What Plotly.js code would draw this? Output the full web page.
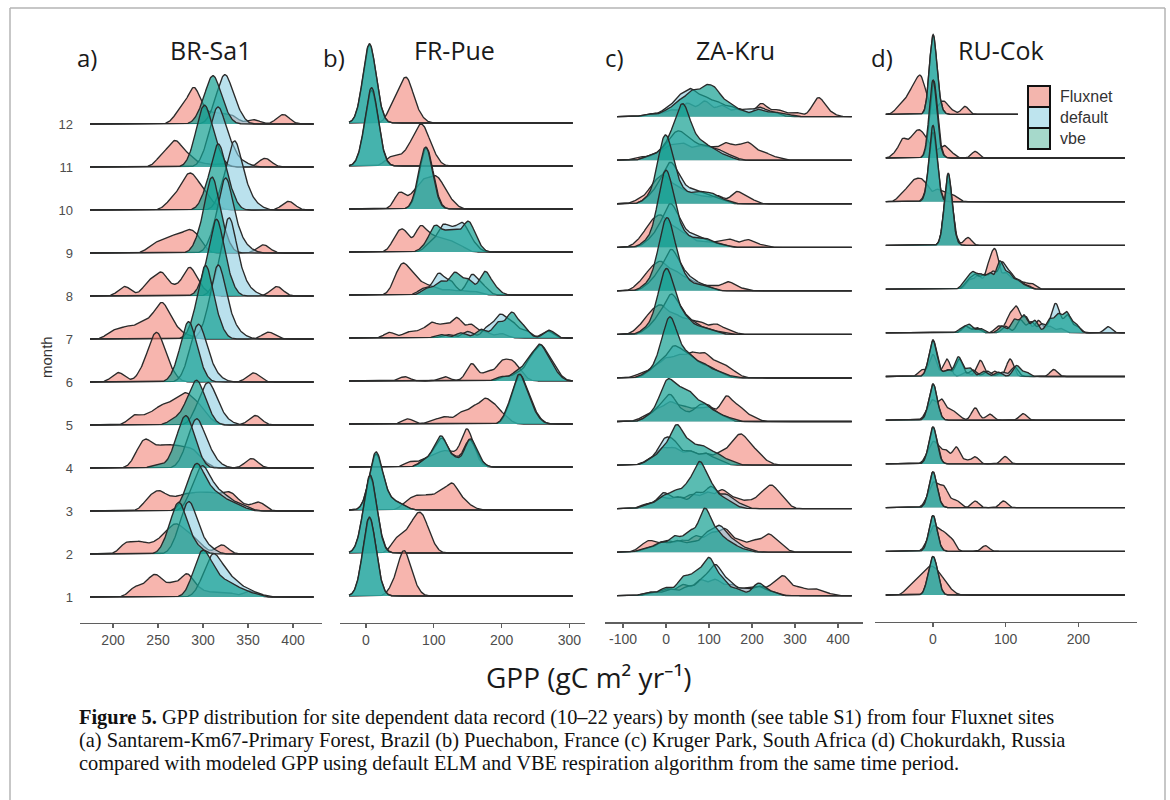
<!DOCTYPE html>
<html><head><meta charset="utf-8">
<script src="https://cdn.plot.ly/plotly-3.0.1.min.js"></script>
<style>html,body{margin:0;padding:0;background:#fff}#chart{width:1170px;height:800px}</style>
</head><body><div id="chart"></div>
<script>
// ---------------- DATA ----------------
const months = [1,2,3,4,5,6,7,8,9,10,11,12];
const sites = ['BR-Sa1','FR-Pue','ZA-Kru','RU-Cok'];
const panelLetters = ['a)','b)','c)','d)'];
const seriesNames = ['Fluxnet','default','vbe'];
const ticksBR = [200,250,300,350,400];
const ticksFR = [0,100,200,300];
const ticksZA = [-100,0,100,200,300,400];
const ticksRU = [0,100,200];

// each month: list of [GPP value, weight] pairs (weighted kernel density)
const BR_fluxnet = [
 [[225,22],[240,28],[250,38],[266,28],[282,50],[296,15],[312,10],[328,10],[352,14]],
 [[215,25],[230,25],[245,20],[258,35],[270,55],[283,40],[296,20],[321,21]],
 [[240,25],[252,38],[266,25],[280,32],[294,35],[308,35],[322,30],[333,30],[346,10],[362,20]],
 [[228,25],[237,50],[250,35],[262,40],[275,38],[288,35],[300,12],[354,22]],
 [[224,22],[240,22],[254,38],[268,45],[281,60],[294,40],[306,12],[358,22]],
 [[206,22],[234,25],[245,70],[253,60],[264,20],[356,21]],
 [[200,18],[215,25],[230,30],[243,35],[255,72],[268,25],[282,8],[373,16]],
 [[213,22],[240,30],[254,50],[270,18],[285,62],[298,15],[382,22]],
 [[245,18],[258,25],[270,30],[283,40],[294,30],[367,19]],
 [[265,20],[278,45],[288,60],[300,35],[312,10],[395,20]],
 [[255,25],[269,55],[283,25],[300,8],[320,8],[369,20]],
 [[275,30],[290,80],[305,20],[318,20],[332,18],[356,10],[389,22]]
];
const BR_default = [
 [[300,30],[311,80],[323,50],[336,30],[350,15],[363,5]],
 [[273,35],[284,100],[295,40],[308,12]],
 [[288,35],[299,85],[311,45],[324,30],[338,15],[350,5]],
 [[282,35],[293,95],[305,40],[317,8]],
 [[295,35],[306,80],[317,30],[329,6]],
 [[285,35],[295,110],[306,40],[318,8]],
 [[306,40],[317,150],[329,45],[342,10]],
 [[318,40],[329,160],[341,45],[354,10]],
 [[313,40],[325,155],[337,45],[350,10]],
 [[323,45],[335,140],[347,45],[360,10]],
 [[306,40],[317,120],[330,45],[345,10]],
 [[315,35],[325,95],[337,30]]
];
const BR_vbe = [
 [[290,35],[300,85],[312,50],[326,30],[340,18],[355,8]],
 [[262,35],[273,100],[284,35],[296,10]],
 [[282,35],[293,90],[305,45],[318,30],[332,18],[345,6]],
 [[250,8],[270,40],[281,100],[292,35]],
 [[268,12],[282,35],[293,85],[304,30]],
 [[273,35],[284,120],[295,35]],
 [[292,40],[303,150],[315,40]],
 [[303,40],[315,160],[327,40]],
 [[298,40],[310,158],[322,40]],
 [[305,40],[317,135],[329,40]],
 [[292,40],[302,120],[314,40]],
 [[300,30],[311,95],[322,30]]
];

const FR_fluxnet = [
 [[42,25],[56,95],[70,25]],
 [[45,30],[60,35],[73,55],[84,60],[96,20]],
 [[60,18],[75,28],[92,30],[110,40],[127,55],[142,20],[155,6]],
 [[65,12],[85,15],[100,22],[115,30],[130,25],[148,80],[160,20]],
 [[62,12],[100,10],[118,16],[140,25],[158,35],[175,50],[190,35],[205,15]],
 [[57,10],[116,10],[156,40],[180,22],[200,40],[215,38],[228,15]],
 [[35,13],[62,13],[80,15],[97,33],[115,28],[134,45],[155,30],[175,15],[200,10]],
 [[45,30],[56,55],[70,35],[85,20],[100,15],[120,12],[140,10],[160,8]],
 [[45,30],[57,40],[80,55],[95,30],[110,25],[125,20],[140,12]],
 [[50,38],[70,30],[85,55],[100,55],[112,40],[126,15]],
 [[35,18],[50,17],[65,35],[78,62],[88,50],[100,20]],
 [[40,40],[55,70],[65,55],[78,15]]
];
const FR_default = [
 [[-5,33],[5,148],[15,38]],
 [[-5,34],[6,148],[17,38]],
 [[5,30],[15,105],[27,35],[42,15],[55,8]],
 [[85,12],[100,25],[113,58],[131,20],[152,58],[165,15]],
 [[213,35],[227,98],[241,40],[253,10]],
 [[205,10],[225,18],[243,45],[258,68],[272,35],[284,10]],
 [[120,8],[150,15],[180,25],[198,50],[215,35],[235,18],[268,16]],
 [[85,15],[107,48],[125,30],[156,45],[172,20]],
 [[95,20],[113,55],[128,40],[143,58],[158,18]],
 [[79,35],[89,110],[99,35]],
 [[-3,33],[8,148],[19,38]],
 [[-5,33],[5,148],[15,40]]
];
const FR_vbe = [
 [[-5,35],[5,150],[15,38]],
 [[-5,35],[6,150],[16,38]],
 [[5,30],[15,110],[27,35],[42,15],[55,8]],
 [[85,12],[100,25],[112,62],[130,20],[153,60],[165,15]],
 [[212,35],[226,100],[240,40],[252,10]],
 [[200,10],[222,20],[240,45],[256,72],[270,35],[282,10]],
 [[110,8],[140,12],[170,20],[195,35],[215,56],[232,25],[270,18]],
 [[90,15],[110,30],[131,50],[150,35],[175,52],[190,15]],
 [[88,12],[102,55],[118,35],[132,40],[150,62],[162,20]],
 [[78,35],[88,112],[98,35]],
 [[-3,35],[8,150],[18,40]],
 [[-5,35],[5,150],[15,40]]
];

const ZA_fluxnet = [
 [[-40,8],[0,15],[40,25],[80,35],[115,35],[150,25],[185,15],[215,20],[250,22],[275,40],[310,18],[345,15],[375,5]],
 [[-55,10],[-35,22],[0,25],[35,25],[70,35],[105,40],[137,50],[170,25],[205,25],[238,38],[265,15]],
 [[-45,10],[-10,25],[25,25],[60,30],[95,35],[130,40],[160,20],[190,15],[220,25],[245,45],[270,20]],
 [[-40,10],[-10,35],[20,35],[55,30],[90,25],[125,25],[155,40],[178,55],[205,30],[230,8]],
 [[-50,10],[-20,25],[10,40],[40,30],[70,25],[100,30],[140,55],[170,30],[200,10]],
 [[-60,8],[-30,20],[0,40],[30,45],[60,50],[90,50],[120,30],[145,18],[165,5]],
 [[-60,15],[-35,40],[-10,55],[20,40],[50,30],[80,25],[115,22],[145,10]],
 [[-60,15],[-35,40],[-10,55],[20,40],[50,25],[80,12],[110,10],[145,20],[175,5]],
 [[-60,15],[-35,45],[-10,60],[20,40],[50,25],[85,12],[120,12],[150,17],[190,17],[220,5]],
 [[-60,10],[-30,35],[-5,55],[25,35],[55,22],[85,15],[120,18],[165,27],[195,10]],
 [[-60,8],[-20,15],[10,30],[40,35],[75,30],[105,25],[137,35],[165,25],[192,36],[225,18],[255,6]],
 [[-30,8],[10,15],[50,30],[90,35],[130,25],[170,18],[222,30],[260,15],[300,10],[354,42],[380,8]]
];
const ZA_default = [
 [[-30,8],[10,15],[50,20],[85,35],[115,65],[145,30],[180,15],[215,20],[245,8]],
 [[-45,8],[-10,22],[25,25],[60,22],[95,40],[125,55],[155,25],[185,8]],
 [[-40,10],[-5,35],[30,25],[70,35],[105,48],[140,30],[170,10]],
 [[-35,12],[-5,50],[20,45],[55,30],[90,25],[120,12]],
 [[-40,10],[-15,25],[10,55],[40,20],[75,30],[100,30],[130,12]],
 [[-40,10],[-15,30],[15,60],[40,45],[65,35],[95,25],[125,12]],
 [[-40,12],[-15,35],[12,80],[38,40],[65,22],[95,12],[125,5]],
 [[-40,12],[-15,35],[12,83],[38,38],[65,20],[95,10]],
 [[-40,12],[-15,35],[10,85],[35,40],[65,25],[95,15],[125,6]],
 [[-40,12],[-15,35],[10,80],[35,40],[65,28],[95,20],[125,10]],
 [[-40,8],[-10,18],[15,38],[35,45],[60,35],[90,30],[120,22],[150,10]],
 [[-40,6],[0,15],[30,40],[58,55],[88,40],[118,30],[150,22],[185,15],[218,20],[250,10]]
];
const ZA_vbe = [
 [[-40,8],[0,18],[40,40],[70,45],[100,80],[130,35],[165,15],[215,28],[245,8]],
 [[-50,8],[-15,20],[20,35],[55,45],[90,95],[120,40],[150,20],[180,6]],
 [[-45,8],[-10,25],[20,35],[50,45],[78,95],[105,45],[135,20],[160,5]],
 [[-35,12],[-5,35],[25,85],[55,45],[85,38],[115,25],[145,10]],
 [[-40,10],[-15,30],[5,76],[30,55],[55,55],[85,38],[115,20],[145,8]],
 [[-45,10],[-15,40],[8,115],[30,50],[55,42],[85,30],[115,15],[145,5]],
 [[-45,12],[-18,50],[2,120],[25,50],[50,28],[80,15],[110,8]],
 [[-45,12],[-18,50],[2,130],[22,55],[45,22],[75,12],[100,6]],
 [[-45,12],[-18,50],[0,135],[20,55],[45,22],[75,18],[100,14],[130,6]],
 [[-40,12],[-15,50],[0,113],[20,45],[45,20],[75,25],[105,22],[135,8]],
 [[-40,8],[-10,18],[15,45],[38,105],[60,45],[85,30],[110,20],[140,10]],
 [[-40,6],[0,12],[30,32],[60,52],[90,56],[115,52],[145,28],[175,12],[215,16],[250,10],[280,5]]
];

const RU_fluxnet = [
 [[-36,10],[-28,18],[-20,25],[-12,35],[-4,45],[4,40],[12,28],[20,15],[28,5]],
 [[-8,15],[0,45],[8,30],[16,32],[26,25],[72,13]],
 [[-8,15],[0,45],[8,30],[16,38],[26,12],[34,12],[58,15],[97,15]],
 [[-8,15],[0,40],[8,25],[18,28],[32,38],[45,8],[58,16],[99,17]],
 [[-8,15],[0,40],[12,45],[24,22],[34,12],[58,28],[78,14],[124,15]],
 [[-15,15],[0,50],[19,40],[45,10],[65,37],[85,12],[106,40],[166,16]],
 [[45,15],[60,12],[90,15],[105,35],[115,55],[128,35],[145,28],[160,15],[175,10]],
 [[50,20],[62,30],[77,50],[86,80],[100,35],[112,22],[124,15],[136,12]],
 [[20,140],[28,25],[48,18]],
 [[-45,12],[-35,25],[-26,38],[-17,40],[-8,30],[5,25],[15,18],[25,14],[33,6]],
 [[-52,10],[-42,38],[-33,25],[-25,40],[-17,45],[-8,35],[6,15],[16,25],[26,10],[58,15]],
 [[-50,8],[-44,12],[-36,28],[-27,50],[-18,70],[-10,35],[8,16],[16,24],[26,8],[44,18]]
];
const RU_default = [
 [[-5,28],[0,52],[5,30]],
 [[-6,10],[0,72],[6,10]],
 [[-6,10],[0,72],[6,10]],
 [[-6,10],[0,74],[6,10]],
 [[-6,10],[0,72],[6,12]],
 [[-6,10],[0,74],[6,10],[20,15],[36,40],[55,15],[75,12],[95,10],[112,22]],
 [[45,15],[60,10],[100,15],[120,30],[135,25],[150,20],[165,35],[171,45],[185,40],[198,15],[241,14]],
 [[48,18],[58,30],[70,30],[82,38],[95,58],[106,35],[118,20],[130,8]],
 [[15,12],[21,152],[28,12]],
 [[-8,15],[0,150],[8,15]],
 [[-6,10],[1,168],[8,12]],
 [[0,176],[8,15]]
];
const RU_vbe = [
 [[-5,30],[0,52],[5,30]],
 [[-6,10],[0,72],[6,10]],
 [[-6,10],[0,72],[6,10]],
 [[-6,10],[0,75],[6,10]],
 [[-6,10],[0,72],[6,12]],
 [[-6,10],[0,72],[6,10],[20,15],[35,45],[50,20],[70,12],[90,10],[115,25],[128,10]],
 [[40,10],[50,18],[65,10],[95,15],[112,30],[125,40],[140,28],[160,30],[172,40],[184,45],[196,20]],
 [[45,20],[55,35],[66,30],[78,35],[92,62],[104,35],[116,20],[128,8]],
 [[15,12],[21,155],[28,12]],
 [[-6,15],[0,160],[6,15]],
 [[-6,10],[0,170],[8,12]],
 [[0,178],[8,15]]
];

// ---------------- LAYOUT / STYLE ----------------
const W = 1170, H = 800;
const px = x => x / W, py = y => 1 - y / H;
const fills = ['rgba(240,120,108,0.55)','rgba(140,205,225,0.6)','rgba(20,160,145,0.7)'];
const legendKeyColors = ['#F3B5AD','#BEE4EE','#A6D9CB'];
const lineColor = '#2a2a2a';

const panels = [
 {data:[BR_fluxnet,BR_default,BR_vbe], ticks:ticksBR, bw:7,  xPx:[80,322],  xr:[163.3,432.2], grid:[174.4,423], axisY:623,   base1:597,   sp:43,    titleX:211,  letterX:87},
 {data:[FR_fluxnet,FR_default,FR_vbe], ticks:ticksFR, bw:8,  xPx:[340,585], xr:[-38.3,323],   grid:[-25,305],   axisY:623,   base1:596,   sp:43,    titleX:454,  letterX:334},
 {data:[ZA_fluxnet,ZA_default,ZA_vbe], ticks:ticksZA, bw:14, xPx:[605,863], xr:[-141.9,458.1],grid:[-114,432],  axisY:622.3, base1:595.7, sp:43.55, titleX:735,  letterX:614},
 {data:[RU_fluxnet,RU_default,RU_vbe], ticks:ticksRU, bw:5,  xPx:[875,1137],xr:[-79.8,280.6], grid:[-65,264],   axisY:621.7, base1:595,   sp:43.7,  titleX:1001, letterX:882}
];
const topPx = 30;
const NPTS = 420;

const traces = [];
const layout = {
  width: W, height: H, margin:{l:0,r:0,t:0,b:0},
  paper_bgcolor:'#fff', plot_bgcolor:'rgba(0,0,0,0)',
  showlegend:false, hovermode:false,
  annotations:[], shapes:[]
};

panels.forEach((p, i) => {
  const xs = [];
  for (let k = 0; k < NPTS; k++) xs.push(p.grid[0] + (p.grid[1]-p.grid[0]) * k / (NPTS-1));
  const xa = 'x' + (i ? i+1 : ''), ya = 'y' + (i ? i+1 : '');
  for (let mi = months.length - 1; mi >= 0; mi--) {
    const m = months[mi];
    for (let s = 0; s < 3; s++) {
      const comps = p.data[s][mi];
      const h = xs.map(x => {
        let sum = 0;
        comps.forEach(([v, w]) => { const z = (x - v) / p.bw; sum += w * Math.exp(-0.5 * z * z); });
        return m + 0.01 * sum;
      });
      traces.push({
        type:'scatter', mode:'lines', xaxis:xa, yaxis:ya,
        x: xs.concat(xs.slice().reverse()),
        y: h.concat(xs.map(() => m)),
        fill:'toself', fillcolor: fills[s], line:{width:0, color:'rgba(0,0,0,0)'},
        hoverinfo:'skip', showlegend:false, name: seriesNames[s]
      });
      traces.push({
        type:'scatter', mode:'lines', xaxis:xa, yaxis:ya,
        x: xs, y: h, line:{color:lineColor, width:1.35},
        hoverinfo:'skip', showlegend:false, name: seriesNames[s]
      });
    }
  }
  const yr0 = 1 - (p.axisY - p.base1) / p.sp;
  const yr1 = 1 + (p.base1 - topPx) / p.sp;
  layout['xaxis' + (i ? i+1 : '')] = {
    domain:[px(p.xPx[0]), px(p.xPx[1])], range:p.xr, anchor: ya,
    showline:true, linecolor:'#5f5f5f', linewidth:1.3,
    ticks:'outside', ticklen:4, tickwidth:1.2, tickcolor:'#5f5f5f',
    tickvals:p.ticks, ticktext:p.ticks.map(String),
    tickfont:{family:'Liberation Sans, Arial, sans-serif', size:14, color:'#4d4d4d'},
    showgrid:false, zeroline:false, fixedrange:true
  };
  const yax = {
    domain:[py(p.axisY), py(topPx)], range:[yr0, yr1], anchor: xa,
    showline:false, showgrid:false, zeroline:false, ticks:'',
    fixedrange:true
  };
  if (i === 0) {
    Object.assign(yax, {tickvals: months, ticktext: months.map(String), showticklabels:true,
      ticklabelstandoff: 6,
      tickfont:{family:'Liberation Sans, Arial, sans-serif', size:13, color:'#4d4d4d'}});
  } else {
    yax.showticklabels = false;
  }
  layout['yaxis' + (i ? i+1 : '')] = yax;
  layout.annotations.push({xref:'paper', yref:'paper', x:px(p.titleX), y:py(50), text:sites[i], showarrow:false,
    xanchor:'center', yanchor:'middle', font:{family:'Open Sans, Noto Sans, sans-serif', size:25, color:'#1a1a1a'}});
  layout.annotations.push({xref:'paper', yref:'paper', x:px(p.letterX), y:py(57), text:panelLetters[i], showarrow:false,
    xanchor:'center', yanchor:'middle', font:{family:'Open Sans, Noto Sans, sans-serif', size:24, color:'#1a1a1a'}});
});

// axis titles
layout.annotations.push({xref:'paper', yref:'paper', x:px(589), y:py(677), showarrow:false,
  text:'GPP (gC m² yr⁻¹)', xanchor:'center', yanchor:'middle',
  font:{family:'Open Sans, Noto Sans, sans-serif', size:28, color:'#1a1a1a'}});
layout.annotations.push({xref:'paper', yref:'paper', x:px(46), y:py(357), showarrow:false, textangle:-90,
  text:'month', xanchor:'center', yanchor:'middle',
  font:{family:'Liberation Sans, Arial, sans-serif', size:15, color:'#333'}});

// legend (drawn as keys + text)
layout.shapes.push({type:'rect', xref:'paper', yref:'paper', x0:px(1018), x1:px(1132), y0:py(152), y1:py(78),
  fillcolor:'#fff', line:{width:0}, layer:'above'});
const keyTop = [86, 107, 128];
seriesNames.forEach((nm, s) => {
  layout.shapes.push({type:'rect', xref:'paper', yref:'paper', x0:px(1028), x1:px(1050),
    y0:py(keyTop[s]+21), y1:py(keyTop[s]), fillcolor:legendKeyColors[s], line:{color:'#111', width:2}, layer:'above'});
  layout.annotations.push({xref:'paper', yref:'paper', x:px(1058), y:py(keyTop[s]+10.5), text:nm, showarrow:false,
    xanchor:'left', yanchor:'middle', font:{family:'Liberation Sans, Arial, sans-serif', size:16, color:'#333'}});
});

// caption
const captionLines = [
  '<b>Figure 5.</b> GPP distribution for site dependent data record (10–22 years) by month (see table S1) from four Fluxnet sites',
  '(a) Santarem-Km67-Primary Forest, Brazil (b) Puechabon, France (c) Kruger Park, South Africa (d) Chokurdakh, Russia',
  'compared with modeled GPP using default ELM and VBE respiration algorithm from the same time period.'
];
const capY = [717, 740, 763];
captionLines.forEach((t, k) => {
  layout.annotations.push({xref:'paper', yref:'paper', x:px(77), y:py(capY[k]), text:t, showarrow:false,
    xanchor:'left', yanchor:'middle', align:'left',
    font:{family:'Liberation Serif, Times New Roman, serif', size:20.4, color:'#111'}});
});

// frame
const frame = {color:'#b5b5b5', width:1.5};
layout.shapes.push({type:'line', xref:'paper', yref:'paper', x0:px(10), x1:px(1165), y0:py(8), y1:py(8), line:frame, layer:'above'});
layout.shapes.push({type:'line', xref:'paper', yref:'paper', x0:px(10), x1:px(10), y0:py(8), y1:py(800), line:frame, layer:'above'});
layout.shapes.push({type:'line', xref:'paper', yref:'paper', x0:px(1165), x1:px(1165), y0:py(8), y1:py(800), line:frame, layer:'above'});

Plotly.newPlot('chart', traces, layout, {staticPlot:true, displayModeBar:false});
</script>
</body></html>
